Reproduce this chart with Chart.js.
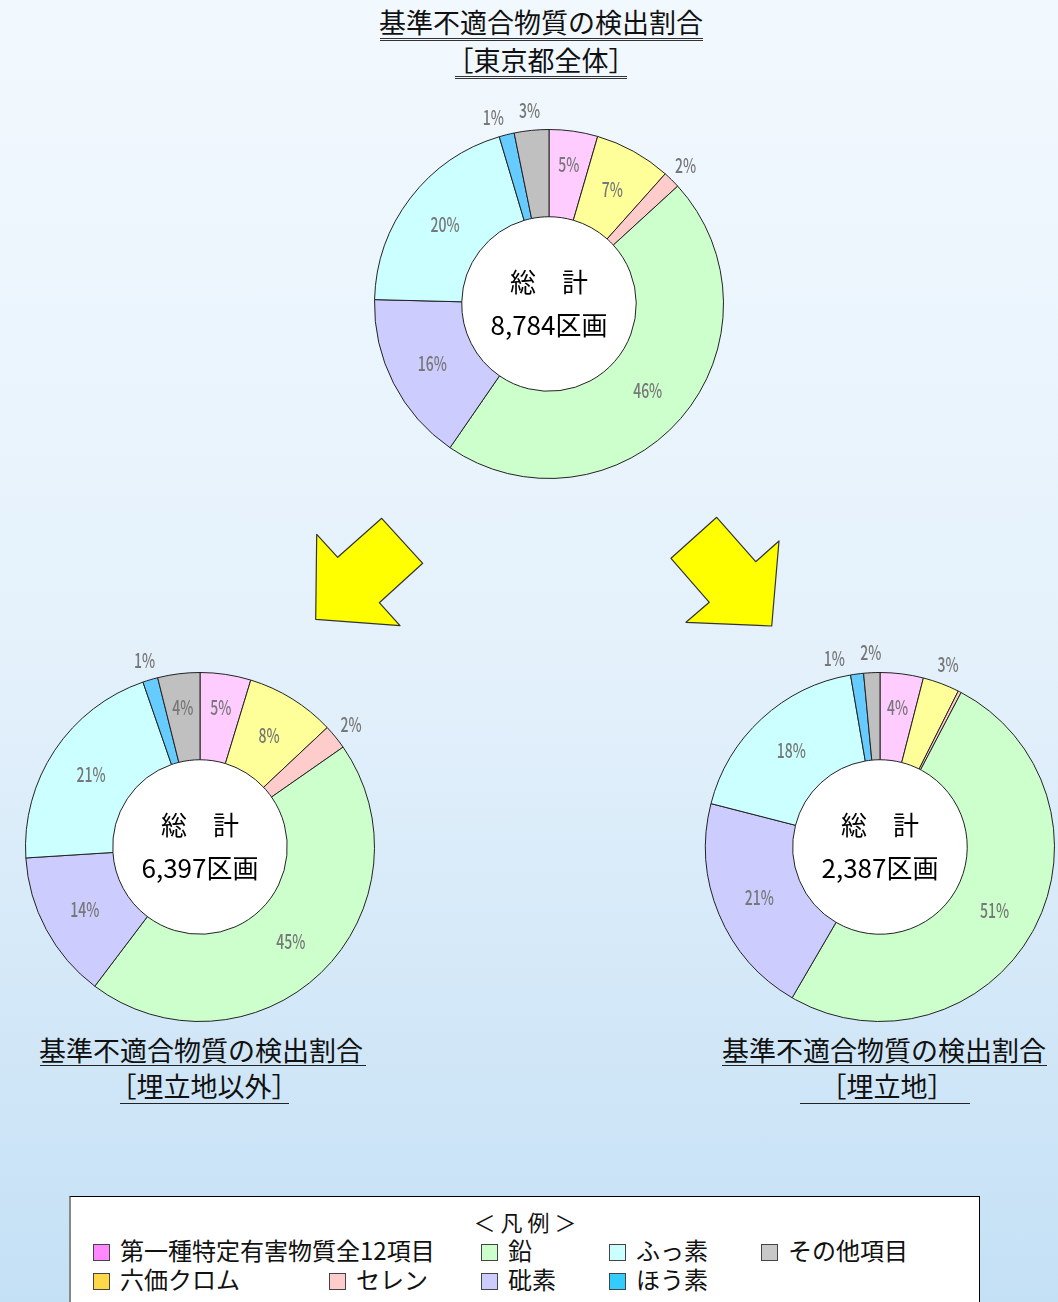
<!DOCTYPE html>
<html lang="ja">
<head>
<meta charset="utf-8">
<title>基準不適合物質の検出割合</title>
<script src="https://cdn.jsdelivr.net/npm/chart.js@4.4.1/dist/chart.umd.min.js"></script>
<style>
  html, body { margin: 0; padding: 0; overflow: hidden; }
  body {
    width: 1058px; height: 1302px; position: relative;
    background: linear-gradient(to bottom, #f2f9fe 0%, #e4f1fb 50%, #c4e0f5 100%);
    font-family: "Noto Sans CJK JP", "Noto Sans", sans-serif; color: #111;
  }
  .ttl { position: absolute; font-size: 27px; line-height: 32px; text-align: center; white-space: nowrap; }
  .rule { position: absolute; height: 0; border-top: 1.5px solid #222; }
  .rule.dbl { border-top: 3px double #333; }
  canvas { position: absolute; }
  #arrows { position: absolute; left: 0; top: 0; }
  #legend {
    position: absolute; left: 69px; top: 1196px; width: 911px; height: 120px;
    background: #fff; border: 1px solid #000; border-left: 2px solid #888; box-sizing: border-box;
  }
  #legend .head { position: absolute; left: 0; width: 100%; top: 11px; text-align: center; font-size: 22px; line-height: 26px; }
  #legend .item { position: absolute; font-size: 24px; line-height: 28px; white-space: nowrap; }
  #legend .sw { display: inline-block; width: 15px; height: 15px; border: 1px solid #444; vertical-align: -1px; margin-right: 10px; }
</style>
</head>
<body>

<div class="ttl" style="left:341px;width:400px;top:6px;">基準不適合物質の検出割合</div>
<div class="rule dbl" style="left:380px;width:323px;top:38px;"></div>
<div class="ttl" style="left:341px;width:400px;top:44px;">［東京都全体］</div>
<div class="rule dbl" style="left:455px;width:172px;top:76px;"></div>

<div class="ttl" style="left:1px;width:400px;top:1034px;">基準不適合物質の検出割合</div>
<div class="rule" style="left:40px;width:326px;top:1065px;"></div>
<div class="ttl" style="left:4px;width:400px;top:1070px;">［埋立地以外］</div>
<div class="rule" style="left:120px;width:169px;top:1103px;"></div>

<div class="ttl" style="left:684px;width:400px;top:1034px;">基準不適合物質の検出割合</div>
<div class="rule" style="left:722px;width:325px;top:1065px;"></div>
<div class="ttl" style="left:687px;width:400px;top:1070px;">［埋立地］</div>
<div class="rule" style="left:800px;width:170px;top:1103px;"></div>

<svg id="arrows" width="1058" height="700">
  <polygon points="316.7,534.3 337.7,557.3 381.7,518.3 422.7,563.3 379.3,602.7 400,625.7 315.7,619.3"
           fill="#ffff00" stroke="#333" stroke-width="1.2" stroke-linejoin="round"/>
  <polygon points="716.7,517.3 755.7,561.7 779,541 771.7,626 686,622.3 709.3,602.3 671,558.3"
           fill="#ffff00" stroke="#333" stroke-width="1.2" stroke-linejoin="round"/>
</svg>

<canvas id="chartAll" width="440" height="440" style="left:329px;top:84px;"></canvas>
<canvas id="chartOther" width="440" height="440" style="left:-20px;top:627px;"></canvas>
<canvas id="chartLand" width="440" height="440" style="left:660px;top:627px;"></canvas>

<div id="legend"><div class="head">＜ 凡 例 ＞</div></div>

<script>
// categories in clockwise order from 12 o'clock
const categories = ['第一種特定有害物質全12項目', '六価クロム', 'セレン', '鉛', '砒素', 'ふっ素', 'ほう素', 'その他項目'];
const sliceColors = ['#ffccff', '#ffff99', '#ffcccc', '#ccffcc', '#ccccff', '#ccffff', '#66ccff', '#c0c0c0'];
const legendColors = ['#ff88ff', '#ffd84a', '#ffcccc', '#ccffcc', '#ccccff', '#ccffff', '#33ccff', '#c8c8c8'];

// share of sections (%)
const tokyoAll = [4.5, 7.1, 1.6, 46.4, 15.8, 20.0, 1.4, 3.2];
const nonLandfill = [4.7, 8.3, 2.3, 45.0, 13.7, 20.7, 1.4, 3.9];
const landfill = [4.0, 3.4, 0.3, 50.7, 20.6, 18.3, 1.2, 1.5];
const totals = ['8,784', '6,397', '2,387'];

// legend grid: [category index, left, top]
const legendOrder = [[0, 22, 39], [3, 410, 39], [5, 538, 39], [7, 690, 39],
                     [1, 22, 68], [2, 258, 68], [4, 410, 68], [6, 538, 68]];

const legend = document.getElementById('legend');
legendOrder.forEach(function (l) {
  const d = document.createElement('div');
  d.className = 'item';
  d.style.left = l[1] + 'px';
  d.style.top = l[2] + 'px';
  d.innerHTML = '<span class="sw" style="background:' + legendColors[l[0]] + '"></span>' + categories[l[0]];
  legend.appendChild(d);
});

// white hole, percentage labels and the total in the middle
const ringText = {
  id: 'ringText',
  beforeDatasetsDraw(chart) {
    const a = chart.getDatasetMeta(0).data[0];
    const ctx = chart.ctx;
    ctx.save();
    ctx.beginPath();
    ctx.arc(a.x, a.y, a.innerRadius, 0, Math.PI * 2);
    ctx.fillStyle = '#fff';
    ctx.fill();
    ctx.restore();
  },
  afterDatasetsDraw(chart, args, opts) {
    const meta = chart.getDatasetMeta(0);
    const values = chart.data.datasets[0].data;
    const sum = values.reduce((s, v) => s + v, 0);
    const ctx = chart.ctx;
    ctx.save();
    ctx.font = '500 20px "Noto Sans CJK JP"';
    ctx.fillStyle = '#777';
    ctx.textAlign = 'center';
    ctx.textBaseline = 'middle';
    let lastOut = null;
    for (let i = values.length - 1; i >= 0; i--) {
      const pct = Math.round(values[i] / sum * 100);
      if (!pct) continue;
      const a = meta.data[i];
      let mid = (a.startAngle + a.endAngle) / 2;
      let r;
      if (values[i] >= 3.8) {
        r = (a.innerRadius + a.outerRadius) / 2 + (values[i] < 6 ? 10 : 0);
      } else {
        r = a.outerRadius + 20;
        if (lastOut !== null && mid > lastOut - 0.19) mid = lastOut - 0.19;
        lastOut = mid;
      }
      ctx.save();
      ctx.translate(a.x + r * Math.cos(mid), a.y + r * Math.sin(mid));
      ctx.scale(0.7, 1);
      ctx.fillText(pct + '%', 0, 0);
      ctx.restore();
    }
    const c = meta.data[0];
    ctx.fillStyle = '#000';
    ctx.font = '26px "Noto Sans CJK JP"';
    ctx.fillText('総　計', c.x, c.y - 22);
    ctx.fillText(opts.total + '区画', c.x, c.y + 21);
    ctx.restore();
  }
};

function makeChart(id, values, total) {
  new Chart(document.getElementById(id), {
    type: 'doughnut',
    data: {
      labels: categories,
      datasets: [{
        data: values,
        backgroundColor: sliceColors,
        borderColor: '#222',
        borderWidth: 1,
        hoverOffset: 0
      }]
    },
    options: {
      responsive: false,
      animation: false,
      events: [],
      cutout: '50%',
      layout: { padding: 45 },
      plugins: {
        legend: { display: false },
        tooltip: { enabled: false },
        ringText: { total: total }
      }
    },
    plugins: [ringText]
  });
}

makeChart('chartAll', tokyoAll, totals[0]);
makeChart('chartOther', nonLandfill, totals[1]);
makeChart('chartLand', landfill, totals[2]);
</script>
</body>
</html>
